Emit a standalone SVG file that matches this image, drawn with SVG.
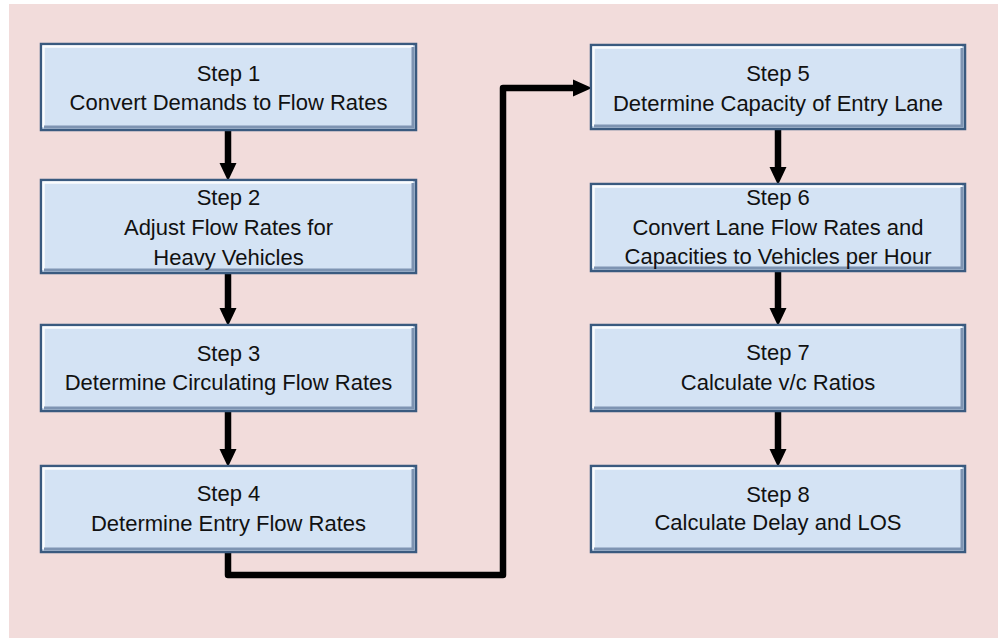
<svg xmlns="http://www.w3.org/2000/svg" width="998" height="638" viewBox="0 0 998 638">
<style>
.bg{fill:#F2DCDB}
.box{fill:#D4E3F4;stroke:#3A5A7F;stroke-width:2.5}
.hi{fill:none;stroke:#FFFFFF;stroke-width:2.5;opacity:0.9}
.sh{fill:none;stroke:#7E94B2;stroke-width:3}
.t{font-family:"Liberation Sans",Arial,sans-serif;font-size:22px;fill:#111111;text-anchor:middle}
.c{fill:none;stroke:#000000;stroke-width:6.5;stroke-linejoin:round}
.ah{fill:#000000}
</style>
<rect x="0" y="0" width="998" height="638" fill="#FFFFFF"/>
<rect class="bg" x="9" y="4" width="989" height="634"/>

<g id="connectors">
<path class="c" d="M228,130 V164"/>
<polygon class="ah" points="219.5,163 236.5,163 228,181"/>
<path class="c" d="M228,273 V309"/>
<polygon class="ah" points="219.5,308 236.5,308 228,326"/>
<path class="c" d="M228,411 V450"/>
<polygon class="ah" points="219.5,449 236.5,449 228,467"/>
<path class="c" d="M228,552 V575 H503 V88 H575"/>
<polygon class="ah" points="573,79.5 573,96.5 592,88"/>
<path class="c" d="M778,129 V168"/>
<polygon class="ah" points="769.5,167 786.5,167 778,185"/>
<path class="c" d="M778,271 V309"/>
<polygon class="ah" points="769.5,308 786.5,308 778,326"/>
<path class="c" d="M778,411 V450"/>
<polygon class="ah" points="769.5,449 786.5,449 778,467"/>
</g>

<g id="step1">
<rect class="box" x="41" y="44" width="375" height="86"/>
<path class="hi" d="M43.5,127 V46.5 H413"/>
<path class="sh" d="M44,127 H413 V47"/>
<text class="t" x="228.5" y="81">Step 1</text>
<text class="t" x="228.5" y="110">Convert Demands to Flow Rates</text>
</g>

<g id="step2">
<rect class="box" x="41" y="180" width="375" height="93"/>
<path class="hi" d="M43.5,270 V182.5 H413"/>
<path class="sh" d="M44,270 H413 V183"/>
<text class="t" x="228.5" y="205">Step 2</text>
<text class="t" x="228.5" y="235">Adjust Flow Rates for</text>
<text class="t" x="228.5" y="265">Heavy Vehicles</text>
</g>

<g id="step3">
<rect class="box" x="41" y="325" width="375" height="86"/>
<path class="hi" d="M43.5,408 V327.5 H413"/>
<path class="sh" d="M44,408 H413 V328"/>
<text class="t" x="228.5" y="361">Step 3</text>
<text class="t" x="228.5" y="390">Determine Circulating Flow Rates</text>
</g>

<g id="step4">
<rect class="box" x="41" y="466" width="375" height="86"/>
<path class="hi" d="M43.5,549 V468.5 H413"/>
<path class="sh" d="M44,549 H413 V469"/>
<text class="t" x="228.5" y="501">Step 4</text>
<text class="t" x="228.5" y="531">Determine Entry Flow Rates</text>
</g>

<g id="step5">
<rect class="box" x="591" y="45" width="374" height="84"/>
<path class="hi" d="M593.5,126 V47.5 H962"/>
<path class="sh" d="M594,126 H962 V48"/>
<text class="t" x="778" y="81">Step 5</text>
<text class="t" x="778" y="111">Determine Capacity of Entry Lane</text>
</g>

<g id="step6">
<rect class="box" x="591" y="184" width="374" height="87"/>
<path class="hi" d="M593.5,268 V186.5 H962"/>
<path class="sh" d="M594,268 H962 V187"/>
<text class="t" x="778" y="205">Step 6</text>
<text class="t" x="778" y="235">Convert Lane Flow Rates and</text>
<text class="t" x="778" y="264">Capacities to Vehicles per Hour</text>
</g>

<g id="step7">
<rect class="box" x="591" y="325" width="374" height="86"/>
<path class="hi" d="M593.5,408 V327.5 H962"/>
<path class="sh" d="M594,408 H962 V328"/>
<text class="t" x="778" y="360">Step 7</text>
<text class="t" x="778" y="390">Calculate v/c Ratios</text>
</g>

<g id="step8">
<rect class="box" x="591" y="466" width="374" height="86"/>
<path class="hi" d="M593.5,549 V468.5 H962"/>
<path class="sh" d="M594,549 H962 V469"/>
<text class="t" x="778" y="502">Step 8</text>
<text class="t" x="778" y="530">Calculate Delay and LOS</text>
</g>
</svg>
